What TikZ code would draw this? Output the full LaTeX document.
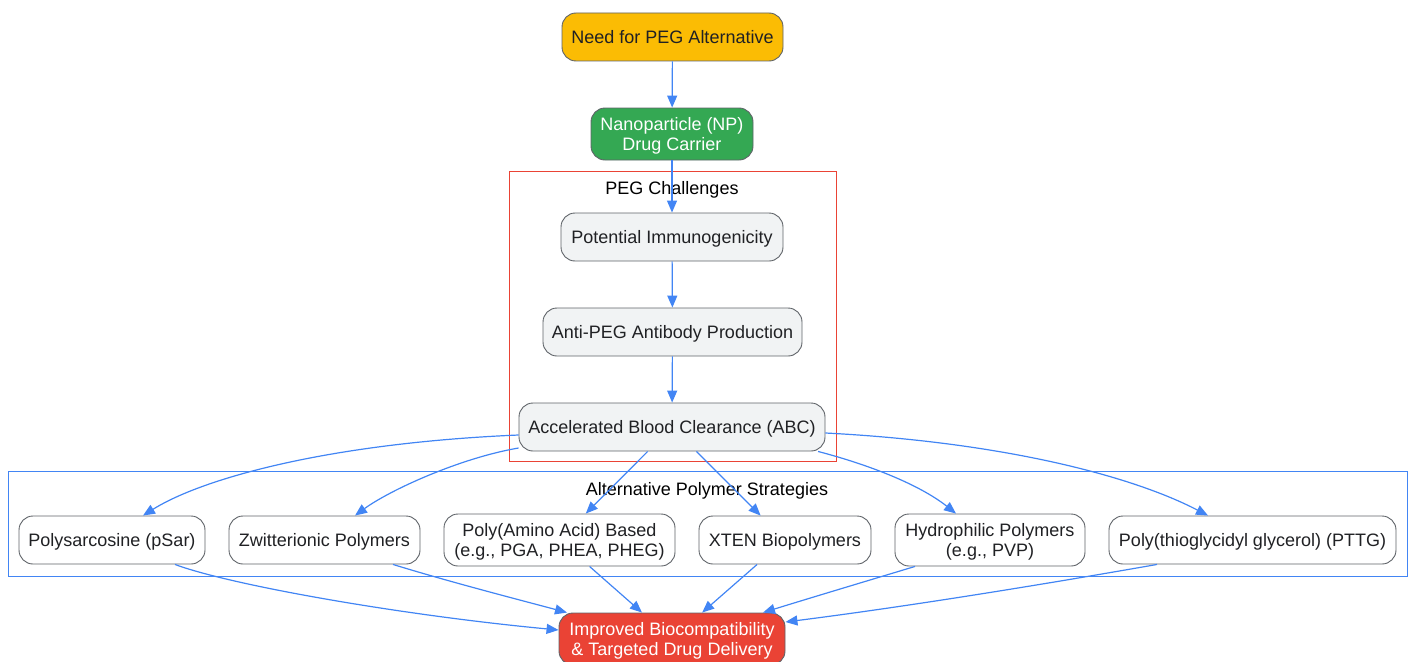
\documentclass[tikz,border=0pt]{standalone}
\usepackage{fontspec}
\setmainfont{Liberation Sans}
\usetikzlibrary{arrows.meta}
\definecolor{edgeblue}{HTML}{4285F4}
\definecolor{clred}{HTML}{EA4335}
\definecolor{bordergray}{HTML}{5F6368}
\definecolor{boxgray}{HTML}{F1F3F4}
\definecolor{textdark}{HTML}{202124}
\definecolor{pegyellow}{HTML}{FBBC04}
\definecolor{nagreen}{HTML}{34A853}
\definecolor{impred}{HTML}{EA4335}
\begin{document}
\begin{tikzpicture}[x=1pt,y=-1pt,
  box/.style={draw=bordergray, line width=0.9pt, rounded corners=14pt, fill=boxgray, text=textdark,
    font=\fontsize{18}{20}\selectfont, align=center, inner sep=0pt},
  one/.style={text height=16.3pt, text depth=3.8pt},
  two/.style={text height=36.3pt, text depth=3.8pt},
  wbox/.style={box, fill=white},
  arr/.style={draw=edgeblue, line width=1.2pt, -{Triangle[length=12pt,width=10pt]}},
  cl/.style={line width=0.8pt},
  cllabel/.style={font=\fontsize{18}{20}\selectfont, text=black, inner sep=0pt, one}
]
\useasboundingbox (0,0) rectangle (1410,661);
% clusters
\draw[cl, draw=clred] (509,171) rectangle (836,461);
\draw[cl, draw=edgeblue] (8,471) rectangle (1407,576);
\node[cllabel] (pegc) at (672,188) {PEG Challenges};
\node[cllabel] (altc) at (707,489) {Alternative Polymer Strategies};
% nodes
\node[box, one, fill=pegyellow, minimum width=221pt, minimum height=48pt] (need) at (672.5,37) {Need for PEG Alternative};
\node[box, two, fill=nagreen, text=white, minimum width=162pt, minimum height=52pt] (np) at (672,134) {Nanoparticle (NP)\\Drug Carrier};
\node[box, one, minimum width=222pt, minimum height=48pt] (pot) at (672,237) {Potential Immunogenicity};
\node[box, one, minimum width=259pt, minimum height=48pt] (anti) at (672.5,332) {Anti-PEG Antibody Production};
\node[box, one, minimum width=306pt, minimum height=48pt] (abc) at (672,427) {Accelerated Blood Clearance (ABC)};
\node[wbox, one, minimum width=186pt, minimum height=48pt] (psar) at (112,540) {Polysarcosine (pSar)};
\node[wbox, one, minimum width=191pt, minimum height=48pt] (zwit) at (324.5,540) {Zwitterionic Polymers};
\node[wbox, two, minimum width=231pt, minimum height=52pt] (paa) at (559.5,540) {Poly(Amino Acid) Based\\(e.g., PGA, PHEA, PHEG)};
\node[wbox, one, minimum width=172pt, minimum height=48pt] (xten) at (785,540) {XTEN Biopolymers};
\node[wbox, two, minimum width=190pt, minimum height=52pt] (hyd) at (990,540) {Hydrophilic Polymers\\(e.g., PVP)};
\node[wbox, one, minimum width=287pt, minimum height=48pt] (pttg) at (1252.5,540) {Poly(thioglycidyl glycerol) (PTTG)};
\node[box, two, fill=impred, text=white, minimum width=226pt, minimum height=52pt] (imp) at (672,639) {Improved Biocompatibility\\\& Targeted Drug Delivery};
% edges
\draw[arr] (need) -- (np);
\draw[arr] (np) -- (pot);
\draw[arr] (pot) -- (anti);
\draw[arr] (anti) -- (abc);
\draw[arr] (abc.west |- 0,435) .. controls (330,443) and (203,478) .. (psar.north east -| 143,0);
\draw[arr] (abc.west |- 0,448) .. controls (460,458) and (390,490) .. (zwit.north -| 355,0);
\draw[arr] (abc) -- (paa);
\draw[arr] (abc) -- (xten);
\draw[arr] (abc.south east -| 818,0) .. controls (870,465) and (920,485) .. (hyd.north -| 956,0);
\draw[arr] (abc.east |- 0,433) .. controls (1000,442) and (1130,475) .. (pttg.north -| 1208,0);
\draw[arr] (psar.south -| 175,0) .. controls (230,585) and (400,615) .. (imp.west |- 0,630);
\draw[arr] (zwit.south -| 393,0) .. controls (450,582) and (520,600) .. (imp.north west -| 567,0);
\draw[arr] (paa) -- (imp);
\draw[arr] (xten) -- (imp);
\draw[arr] (hyd.south -| 915,0) .. controls (870,580) and (810,598) .. (imp.north east -| 763,0);
\draw[arr] (pttg.south -| 1157,0) .. controls (1000,592) and (880,610) .. (imp.east |- 0,622);
\end{tikzpicture}
\end{document}
